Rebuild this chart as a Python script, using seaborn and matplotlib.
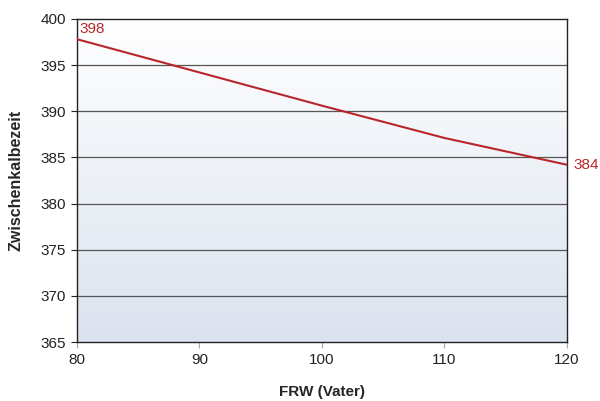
import numpy as np
import pandas as pd
import matplotlib
matplotlib.use('Agg')
import matplotlib.pyplot as plt
import seaborn as sns
from matplotlib.colors import LinearSegmentedColormap

frw = [80, 90, 100, 110, 120]
zkz = [397.8, 394.2, 390.6, 387.1, 384.2]
y_ticks = [365, 370, 375, 380, 385, 390, 395, 400]
x_ticks = [80, 90, 100, 110, 120]

df = pd.DataFrame({'FRW': frw, 'ZKZ': zkz})

sns.set_theme(style='white')
plt.rcParams['font.family'] = ['Liberation Sans', 'DejaVu Sans']

fig = plt.figure(figsize=(6, 4.01), dpi=100)
ax = fig.add_axes([0.128, 0.147, 0.817, 0.806])

# background gradient, white at top to light blue at bottom
cmap = LinearSegmentedColormap.from_list('bg', ['#dbe3ef', '#ffffff'])
grad = np.linspace(0, 1, 256).reshape(-1, 1)
ax.imshow(grad, cmap=cmap, aspect='auto', origin='lower',
          extent=[80, 120, 365, 400], zorder=0)

for yv in y_ticks[1:-1]:
    ax.axhline(yv, color='#555555', lw=0.9, zorder=1)

sns.lineplot(data=df, x='FRW', y='ZKZ', color='#b8262b', lw=1.5, ax=ax, zorder=3)

ax.text(frw[0] + 0.2, zkz[0] + 0.3, f'{zkz[0]:.0f}', color='#b8262b',
        fontsize=11, ha='left', va='bottom')
ax.text(frw[-1] + 0.5, zkz[-1], f'{zkz[-1]:.0f}', color='#b8262b',
        fontsize=11, ha='left', va='center', clip_on=False)

ax.set_xlim(80, 120)
ax.set_ylim(365, 400)
ax.set_xticks(x_ticks)
ax.set_yticks(y_ticks)
ax.tick_params(axis='both', labelsize=11, colors='#222222', length=4,
               width=0.8, direction='out', bottom=True, left=True, pad=4)
ax.tick_params(axis='x', colors='#aaaaaa', labelcolor='#222222')

for side in ['left', 'bottom', 'top', 'right']:
    ax.spines[side].set_visible(True)
    ax.spines[side].set_color('#222222')
    ax.spines[side].set_linewidth(1.0)

ax.set_xlabel('FRW (Vater)', fontsize=11, fontweight='bold', labelpad=13)
ax.set_ylabel('Zwischenkalbezeit', fontsize=11.5, fontweight='bold', labelpad=12)

fig.savefig('out.png', dpi=100)
